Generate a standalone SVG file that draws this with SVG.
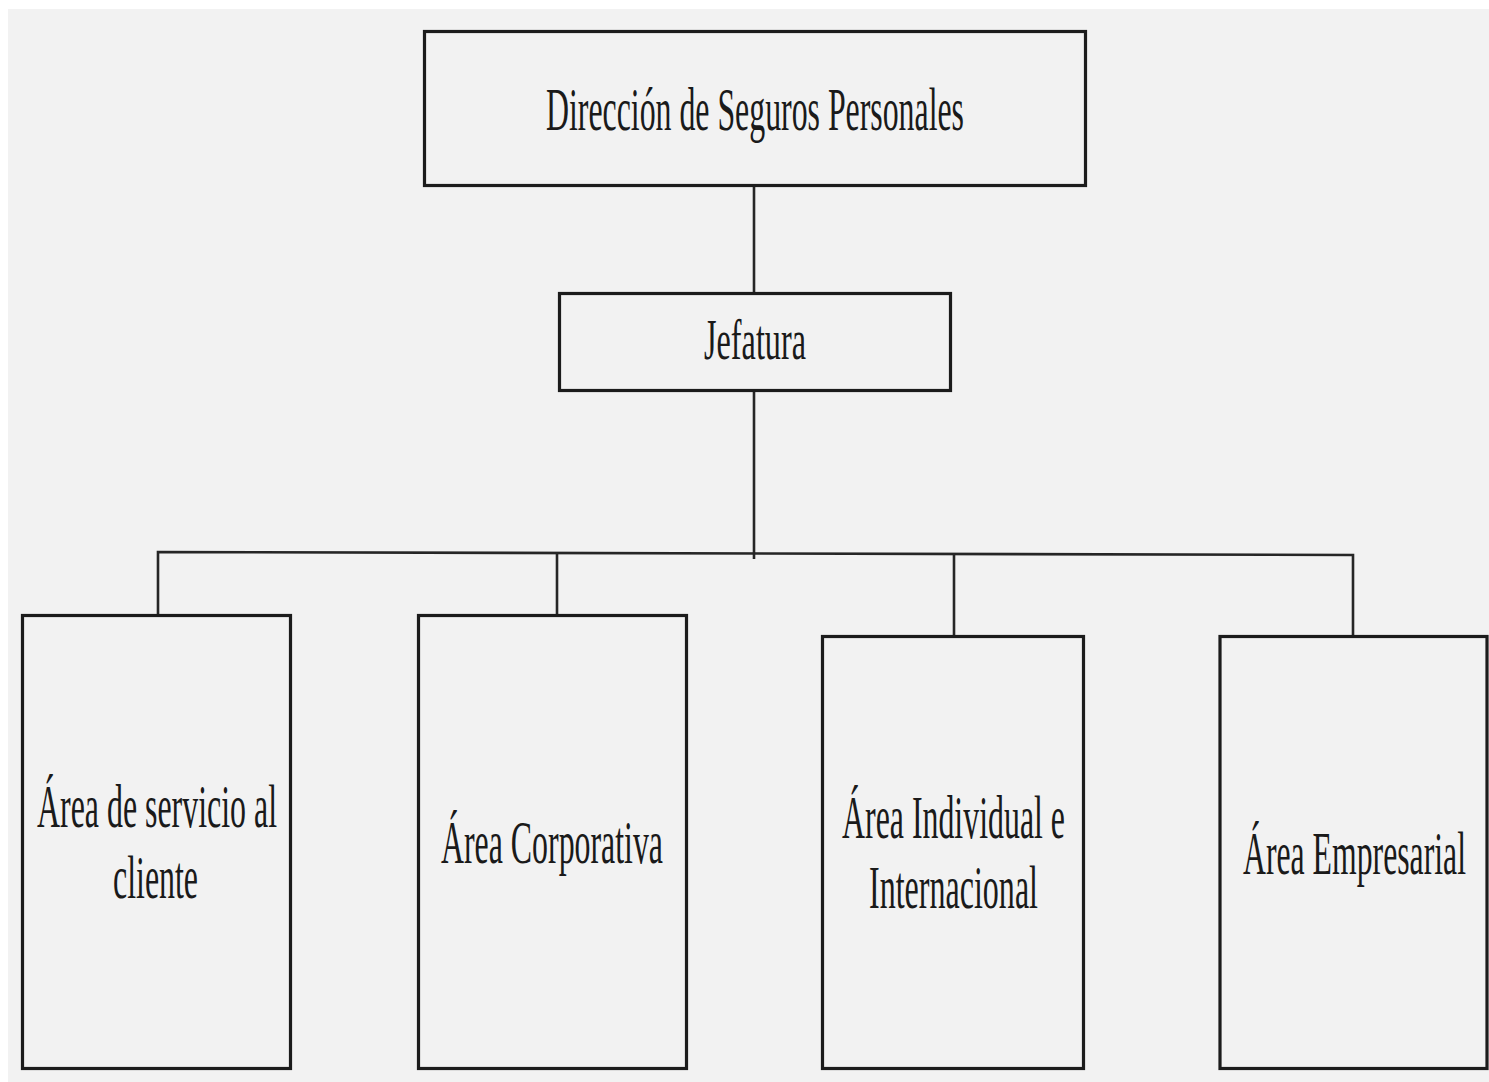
<svg xmlns="http://www.w3.org/2000/svg" width="1489" height="1082" viewBox="0 0 1489 1082">
<style>
.box{fill:#f2f2f2;stroke:#1c1c1c;stroke-width:3.2}
.ln{fill:none;stroke:#262626;stroke-width:2.6}
.t{font-family:"Liberation Serif","Times New Roman",serif;font-size:62px;fill:#1a1a1a}
</style>
<rect x="0" y="0" width="1489" height="1082" fill="#ffffff"/>
<rect x="8" y="9" width="1481" height="1073" fill="#f2f2f2"/>
<g id="connectors">
<line class="ln" x1="754" y1="186" x2="754" y2="293"/>
<line class="ln" x1="754" y1="391" x2="754" y2="559"/>
<polyline class="ln" points="158,615 158,552 1353,555 1353,636"/>
<line class="ln" x1="557" y1="552.5" x2="557" y2="615"/>
<line class="ln" x1="954" y1="553.5" x2="954" y2="636"/>
</g>
<g id="n-direccion">
<rect class="box" x="424.5" y="31.5" width="661" height="154"/>
<text class="t" x="546" y="130" textLength="418" lengthAdjust="spacingAndGlyphs">Dirección de Seguros Personales</text>
</g>
<g id="n-jefatura">
<rect class="box" x="559.5" y="293.5" width="391" height="97"/>
<text class="t" x="704" y="359" style="font-size:56px" textLength="102" lengthAdjust="spacingAndGlyphs">Jefatura</text>
</g>
<g id="n-servicio">
<rect class="box" x="22.5" y="615.5" width="268" height="453"/>
<text class="t" x="37" y="827" textLength="240" lengthAdjust="spacingAndGlyphs">Área de servicio al</text>
<text class="t" x="113" y="898" textLength="85" lengthAdjust="spacingAndGlyphs">cliente</text>
</g>
<g id="n-corporativa">
<rect class="box" x="418.5" y="615.5" width="268" height="453"/>
<text class="t" x="441" y="863" textLength="222" lengthAdjust="spacingAndGlyphs">Área Corporativa</text>
</g>
<g id="n-individual">
<rect class="box" x="822.5" y="636.5" width="261" height="432"/>
<text class="t" x="842" y="838" textLength="223" lengthAdjust="spacingAndGlyphs">Área Individual e</text>
<text class="t" x="869" y="908" textLength="169" lengthAdjust="spacingAndGlyphs">Internacional</text>
</g>
<g id="n-empresarial">
<rect class="box" x="1220" y="636.5" width="267" height="432"/>
<text class="t" x="1243" y="874" textLength="223" lengthAdjust="spacingAndGlyphs">Área Empresarial</text>
</g>
</svg>
